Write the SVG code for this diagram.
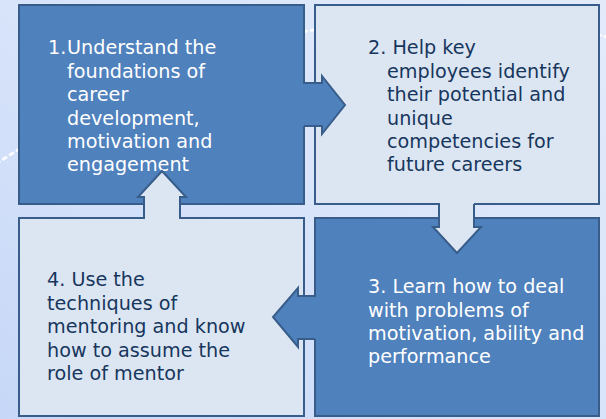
<svg xmlns="http://www.w3.org/2000/svg" width="606" height="419" viewBox="0 0 606 419">
<defs>
<linearGradient id="bg" x1="0" y1="1" x2="1" y2="0">
<stop offset="0" stop-color="#C6D7F7"/>
<stop offset="0.5" stop-color="#D8E4FA"/>
<stop offset="1" stop-color="#E3EBFB"/>
</linearGradient>
</defs>
<style>
.dark{fill:#4F81BD;stroke:#385D8A;stroke-width:2}
.light{fill:#DCE6F2;stroke:#385D8A;stroke-width:2}
.fd{fill:#4F81BD}
.fl{fill:#DCE6F2}
.edge{fill:none;stroke:#385D8A;stroke-width:2;stroke-linejoin:miter}
text{font-family:"DejaVu Sans","Verdana",sans-serif;font-size:19.2px}
.tw{fill:#FFFFFF}
.tn{fill:#17365D}
</style>
<rect width="606" height="419" fill="url(#bg)"/>
<path d="M -10 168 Q 300 -40 620 40" fill="none" stroke="#FFFFFF" stroke-width="3" stroke-dasharray="3 5" stroke-linecap="round" opacity="0.9"/>
<g id="node1">
<rect class="dark" x="19" y="5" width="285" height="199"/>
<text class="tw"><tspan x="48" y="54">1.</tspan><tspan x="67" y="54">Understand the</tspan><tspan x="67" y="77.5">foundations of</tspan><tspan x="67" y="101">career</tspan><tspan x="67" y="124.5">development,</tspan><tspan x="67" y="148">motivation and</tspan><tspan x="67" y="171">engagement</tspan></text>
</g>
<g id="node2">
<rect class="light" x="315" y="5" width="284" height="199"/>
<text class="tn"><tspan x="368" y="54">2. Help key</tspan><tspan x="387" y="77.5">employees identify</tspan><tspan x="387" y="101">their potential and</tspan><tspan x="387" y="124.5">unique</tspan><tspan x="387" y="148">competencies for</tspan><tspan x="387" y="171">future careers</tspan></text>
</g>
<g id="node3">
<rect class="dark" x="315" y="218" width="284" height="198"/>
<text class="tw"><tspan x="368" y="293">3. Learn how to deal</tspan><tspan x="368" y="316.5">with problems of</tspan><tspan x="368" y="340">motivation, ability and</tspan><tspan x="368" y="363">performance</tspan></text>
</g>
<g id="node4">
<rect class="light" x="19" y="218" width="285" height="198"/>
<text class="tn"><tspan x="47" y="286">4. Use the</tspan><tspan x="47" y="309.5">techniques of</tspan><tspan x="47" y="333">mentoring and know</tspan><tspan x="47" y="356.5">how to assume the</tspan><tspan x="47" y="379.5">role of mentor</tspan></text>
</g>
<g id="connectors">
<polygon class="fd" points="302,84 322,84 322,76 345,105 322,134 322,126 302,126"/>
<path class="edge" d="M304,83 H322 V76 L345,105 L322,134 V126 H304"/>
<polygon class="fl" points="440,202 474,202 474,227 481,227 457,253 433,227 440,227"/>
<path class="edge" d="M439,204 V227 H433 L457,253 L481,227 H474 V204"/>
<polygon class="fd" points="317,297 317,339 298,339 298,347 273,317 298,288 298,297"/>
<path class="edge" d="M315,296 H298 V288 L273,317 L298,347 V339 H315"/>
<polygon class="fl" points="145,220 145,197 138,197 162,171 186,197 179,197 179,220"/>
<path class="edge" d="M144,218 V197 H138 L162,171 L186,197 H180 V218"/>
</g>
</svg>
